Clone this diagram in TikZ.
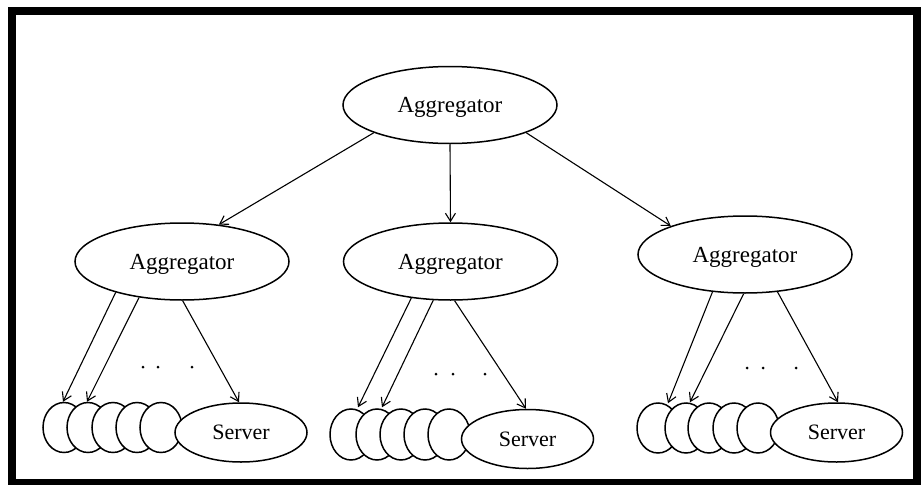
\documentclass[tikz,border=0pt]{standalone}
\usepackage{fontspec}
\setmainfont{Liberation Serif}
\usetikzlibrary{shapes.geometric,arrows.meta}
\begin{document}
\begin{tikzpicture}[x=1pt,y=-1pt,
  agg/.style={ellipse,draw,line width=1.5pt,fill=white,minimum width=214pt,minimum height=77pt,inner sep=0pt,text depth=0pt,font=\fontsize{23}{23}\selectfont},
  srv/.style={ellipse,draw,line width=1.5pt,fill=white,minimum width=132pt,minimum height=59pt,inner sep=0pt,font=\fontsize{22}{22}\selectfont},
  smallsrv/.style={ellipse,draw,line width=1.5pt,fill=white,minimum width=42pt,minimum height=50pt,inner sep=0pt},
  arr/.style={line width=1.1pt,-{Straight Barb[length=8pt,width=10pt]}},
  ddot/.style={circle,fill=black,inner sep=0pt,minimum size=3pt}]
\useasboundingbox (0,0) rectangle (922,485);
\draw[line width=8pt] (12,11) rectangle (917,483);
% aggregators
\node[agg] (top) at (450,105) {Aggregator};
\node[agg] (ma) at (182,261.5) {Aggregator};
\node[agg] (mb) at (450.5,261.5) {Aggregator};
\node[agg] (mc) at (745,254.5) {Aggregator};
% left group
\foreach \i/\x in {1/64,2/88,3/113,4/137,5/161} \node[smallsrv] (a\i) at (\x,427.5) {};
\node[srv] (as) at (241,432.5) {Server};
% middle group
\foreach \i/\x in {1/351,2/377,3/401,4/425,5/449} \node[smallsrv,minimum height=51pt] (b\i) at (\x,434.5) {};
\node[srv] (bs) at (527.5,439) {Server};
% right group
\foreach \i/\x in {1/658,2/686,3/709,4/734,5/758} \node[smallsrv] (c\i) at (\x,428) {};
\node[srv] (cs) at (836.5,432.5) {Server};
% top arrows
\draw[arr] (top.200) -- (ma.45);
\draw[arr] (top.south) -- (mb.north);
\draw[arr] (top.340) -- (mc.159);
% left arrows
\draw[arr] (ma.205) -- ([xshift=-1pt]a1.north);
\draw[arr] (ma.220) -- ([xshift=-1pt]a2.north);
\draw[arr] (ma.271) -- ([xshift=-2pt]as.north);
% middle arrows
\draw[arr] (mb.223) -- ([xshift=7pt,yshift=1pt]b1.north);
\draw[arr] (mb.246) -- ([xshift=5pt,yshift=1pt]b2.north);
\draw[arr] (mb.276) -- ([xshift=-1.5pt]bs.north);
% right arrows
\draw[arr] (mc.229) -- ([xshift=10pt,yshift=-1pt]c1.north);
\draw[arr] (mc.268) -- ([xshift=4pt]c2.north);
\draw[arr] (mc.311) -- ([xshift=1.5pt]cs.north);
% dots
\node[ddot] (da1) at (143,367) {};
\node[ddot] (da2) at (158,367) {};
\node[ddot] (da3) at (192,367) {};
\node[ddot] (db1) at (436,374) {};
\node[ddot] (db2) at (453,374) {};
\node[ddot] (db3) at (485,374) {};
\node[ddot] (dc1) at (747,368) {};
\node[ddot] (dc2) at (763,368) {};
\node[ddot] (dc3) at (796,368) {};
\end{tikzpicture}
\end{document}
